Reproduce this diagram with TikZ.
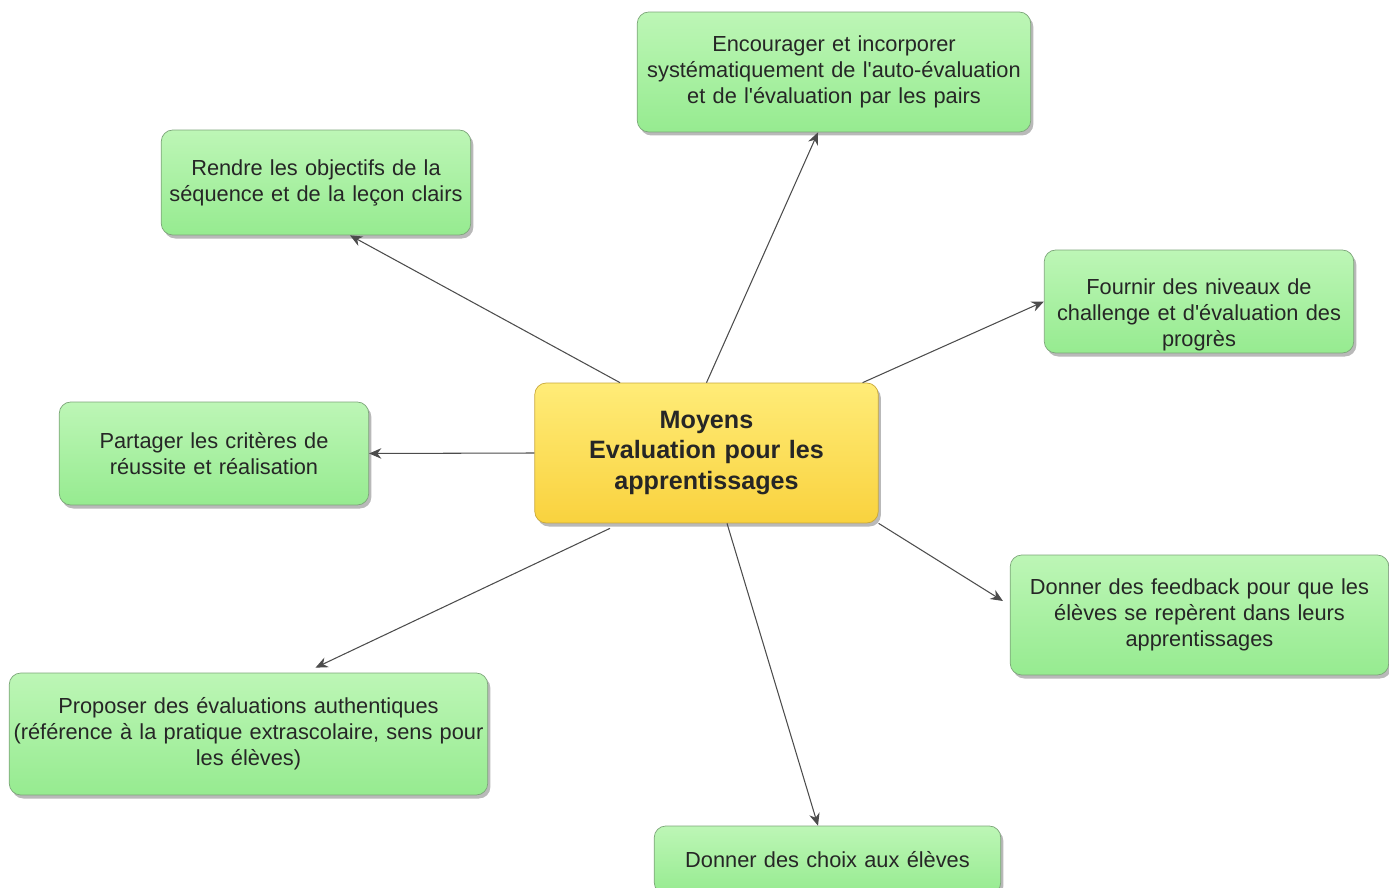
\documentclass[tikz,border=0pt]{standalone}
\usepackage{fontspec}
\setmainfont{Liberation Sans}[Ligatures=TeXOff]
\usetikzlibrary{shadows,arrows.meta}
\definecolor{vertHaut}{HTML}{BDF6B6}
\definecolor{vertBas}{HTML}{96EB90}
\definecolor{bordVert}{HTML}{7DA67A}
\definecolor{jauneHaut}{HTML}{FFEC78}
\definecolor{jauneBas}{HTML}{F9D23E}
\definecolor{bordJaune}{HTML}{C9A83A}
\begin{document}
\begin{tikzpicture}[x=0.02cm, y=-0.02cm, >={Stealth[length=7pt, width=6pt]},
    boite/.style={draw=bordVert, rounded corners=6.5pt, top color=vertHaut, bottom color=vertBas,
      drop shadow={shadow xshift=1.5pt, shadow yshift=-2pt, fill=black!55, opacity=0.5},
      align=center, inner xsep=1pt, text=black!85, font=\fontsize{12.4}{14.8}\selectfont},
    centre/.style={boite, draw=bordJaune, top color=jauneHaut, bottom color=jauneBas,
      font=\fontsize{14.3}{17.6}\selectfont\bfseries},
    fleche/.style={->, draw=black!70, line width=0.6pt}]
\useasboundingbox (0,0) rectangle (1389,888);
\clip (0,0) rectangle (1389,888);

% Centre
\node[centre, text width=6.8cm, minimum height=2.8cm] (moy) at (706.5,453)
  {Moyens\\Evaluation pour les\\apprentissages};

% Boites
\node[boite, text width=7.8cm, minimum height=2.4cm] (enc) at (834,72)
  {Encourager et incorporer\\systématiquement de l'auto-évaluation\\et de l'évaluation par les pairs};
\node[boite, text width=6.12cm, minimum height=2.1cm] (obj) at (316,182.5)
  {Rendre les objectifs de la\\séquence et de la leçon clairs};
\node[boite, text width=6.12cm, minimum height=2.06cm] (niv) at (1199,301.5)
  {Fournir des niveaux de\\challenge et d'évaluation des\\progrès\par\vspace{-0.52cm}};
\node[boite, text width=6.12cm, minimum height=2.06cm] (crit) at (214,453.5)
  {Partager les critères de\\réussite et réalisation};
\node[boite, text width=7.5cm, minimum height=2.4cm] (feed) at (1199.5,615)
  {Donner des feedback pour que les\\élèves se repèrent dans leurs\\apprentissages};
\node[boite, text width=9.5cm, minimum height=2.44cm] (auth) at (248.5,734)
  {Proposer des évaluations authentiques\\(référence à la pratique extrascolaire, sens pour\\les élèves)};
\node[boite, text width=6.86cm, minimum height=1.36cm] (choix) at (827.5,860)
  {Donner des choix aux élèves};

% Fleches
\draw[fleche] (moy.north) -- ([xshift=-0.32cm]enc.south);
\draw[fleche] ([xshift=-1.73cm]moy.north) -- ([xshift=0.68cm]obj.south);
\draw[fleche] ([xshift=-0.32cm]moy.north east) -- (niv.west);
\draw[fleche] (moy.west) -- (crit.east);
\draw[fleche] (moy.south east) -- ([shift={(-0.14cm,0.28cm)}]feed.west);
\draw[fleche] ([shift={(-1.93cm,-0.1cm)}]moy.south) -- ([shift={(1.34cm,0.1cm)}]auth.north);
\draw[fleche] ([xshift=0.41cm]moy.south) -- ([xshift=-0.19cm]choix.north);
\end{tikzpicture}
\end{document}
